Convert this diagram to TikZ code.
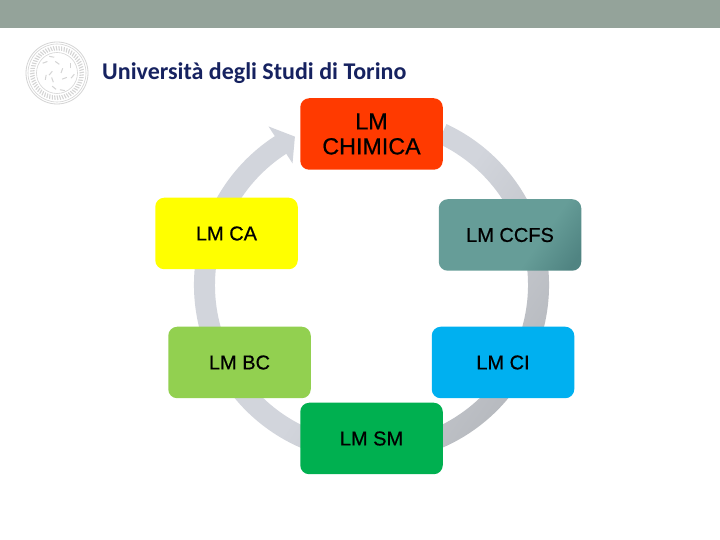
\documentclass[tikz,border=0pt]{standalone}
\usepackage{fontspec}
\setmainfont{Liberation Sans}
\newfontfamily\titlefont{Carlito}
\newfontfamily\lmfont[FakeBold=0.6]{Liberation Sans}
\usepackage{tikz}
\usetikzlibrary{calc,arrows.meta}
\definecolor{band}{RGB}{148, 163, 154}
\definecolor{navy}{RGB}{22, 34, 96}
\definecolor{sealgray}{RGB}{212, 212, 212}
\definecolor{ringlight}{RGB}{210, 213, 220}
\definecolor{ringdark}{RGB}{182, 185, 190}
\definecolor{chimica}{RGB}{255, 58, 0}
\definecolor{cayellow}{RGB}{255, 255, 0}
\definecolor{ccfs}{RGB}{102, 157, 152}
\definecolor{ccfsdark}{RGB}{80, 132, 130}
\definecolor{bcgreen}{RGB}{146, 208, 80}
\definecolor{ciblue}{RGB}{0, 176, 240}
\definecolor{smgreen}{RGB}{0, 176, 80}
\pgfdeclarehorizontalshading{ccfsfade}{100bp}{color(0bp)=(ccfs); color(62bp)=(ccfs); color(80bp)=(ccfsdark); color(100bp)=(ccfsdark)}
\pgfdeclarehorizontalshading{ringfade}{100bp}{color(0bp)=(ringlight); color(50bp)=(ringlight); color(72bp)=(ringdark); color(100bp)=(ringdark)}
\tikzset{
    lmbox/.style={rounded corners=9pt, minimum width=142.5pt, minimum height=71.5pt,
        align=center, inner sep=0pt, text=black, font=\lmfont\fontsize{20}{25}\selectfont},
}

\begin{document}
\begin{tikzpicture}[x=1pt, y=1pt]
    \useasboundingbox (0,0) rectangle (720,540);
    \fill[white] (0,0) rectangle (720,540);

    % Top band
    \fill[band] (0,511.5) rectangle (720,540);

    % Seal of the university
    \coordinate (S) at (57,467);
    \draw[sealgray, line width=0.8pt] (S) circle (31);
    \draw[sealgray, line width=0.6pt] (S) circle (29);
    \draw[sealgray, line width=0.6pt] (S) circle (20.5);
    \foreach \a in {0,6,...,354}
        \draw[sealgray, line width=1.1pt] ($(S)+(\a:22.5)$) -- ($(S)+(\a+2:27)$);
    \foreach \a/\r in {20/14,75/9,130/15,190/11,250/14,310/8,0/4,160/5,100/16,220/7,340/15,280/17}
        \draw[sealgray, line width=1pt] ($(S)+(\a:\r)$) -- ++(\a+70:5);

    % Title
    \node[font=\titlefont\bfseries\fontsize{24}{28}\selectfont, text=navy, anchor=base west, inner sep=0pt] (title) at (102,460.5) {Università degli Studi di Torino};

    % Ring with arrow head
    \coordinate (O) at (371.5,255);
    \shade[shading=ringfade, shading angle=-35]
        ($(O)+(65:177.5)$) arc (65:-237:177.5)
        -- ($(O)+(123:189)$) -- ($(O)+(117.3:167)$) -- ($(O)+(123:145)$)
        -- ($(O)+(123:156.5)$) arc (-237:65:156.5) -- cycle;

    % Boxes
    \node[lmbox, fill=chimica, font=\lmfont\fontsize{23.3}{25}\selectfont] (chimica) at (371.5,406) {LM\\CHIMICA};
    \node[lmbox, fill=cayellow] (ca) at (226.5,306.5) {LM CA};
    \node[lmbox, shading=ccfsfade, shading angle=-35] (cc) at (510,305) {LM CCFS};
    \node[lmbox, fill=bcgreen] (bc) at (239.5,177.5) {LM BC};
    \node[lmbox, fill=ciblue] (ci) at (503,177.5) {LM CI};
    \node[lmbox, fill=smgreen] (sm) at (371.5,101.5) {LM SM};
\end{tikzpicture}
\end{document}
